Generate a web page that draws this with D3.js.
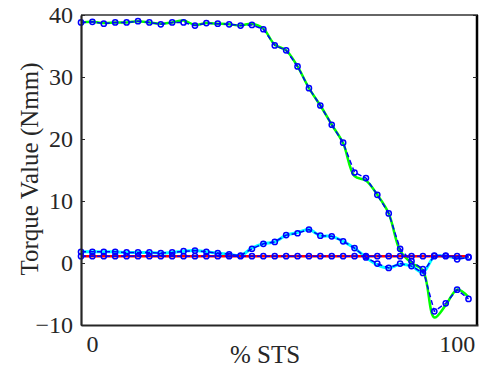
<!DOCTYPE html>
<html>
<head>
<meta charset="utf-8">
<script src="https://cdn.jsdelivr.net/npm/d3@7"></script>
</head>
<body style="margin:0">
<svg id="chart" width="479" height="368"></svg>
<script>
// Samples along the sit-to-stand cycle (35 points)
const sampleCount = 35;

// Top torque curve (green = measured, blue = model markers)
const greenMeasured = [38.8, 38.9, 38.7, 38.8, 38.8, 39.0, 38.8, 38.6, 38.8, 39.1, 38.4, 38.7, 38.6, 38.5, 38.3, 38.6,
  37.8, 35.2, 34.3, 31.7, 28.2, 25.4, 22.3, 19.3, 14.0, 13.3, 11.0, 8.0, 2.0, 0.0, -1.2, -8.8, -6.8, -4.3, -5.5];
const greenModel = [38.8, 38.9, 38.6, 38.8, 38.8, 39.0, 38.8, 38.5, 38.8, 38.8, 38.3, 38.7, 38.6, 38.5, 38.3, 38.4,
  37.7, 35.1, 34.3, 31.7, 28.2, 25.4, 22.3, 19.4, 14.6, 13.7, 11.0, 8.0, 2.3, 0.3, -1.0, -7.8, -6.5, -4.3, -5.8];

// Middle curve (cyan)
const cyanMeasured = [1.8, 1.8, 1.8, 1.8, 1.7, 1.7, 1.7, 1.6, 1.7, 1.9, 2.0, 1.8, 1.6, 1.4, 1.2, 2.4,
  3.1, 3.4, 4.5, 4.9, 5.4, 4.4, 4.3, 3.5, 2.4, 0.9, -0.3, -0.8, -0.2, -0.5, -1.5, 1.0, 1.1, 0.8, 1.0];
const cyanModel = [1.8, 1.8, 1.8, 1.8, 1.7, 1.7, 1.7, 1.6, 1.7, 1.9, 2.0, 1.8, 1.6, 1.4, 1.2, 2.3,
  3.1, 3.4, 4.5, 4.8, 5.4, 4.4, 4.3, 3.5, 2.4, 0.9, -0.1, -0.8, -0.1, -0.5, -1.6, 1.2, 1.2, 0.6, 0.9];

// Bottom curve (red), practically flat
const redMeasured = [1.1, 1.1, 1.1, 1.1, 1.1, 1.1, 1.1, 1.1, 1.1, 1.1, 1.1, 1.1, 1.1, 1.1, 1.1, 1.1,
  1.1, 1.1, 1.1, 1.1, 1.1, 1.1, 1.1, 1.1, 1.1, 1.1, 1.1, 1.1, 1.1, 1.1, 1.1, 1.1, 1.1, 1.1, 1.1];
const redModel = [1.1, 1.1, 1.1, 1.1, 1.1, 1.1, 1.1, 1.1, 1.1, 1.1, 1.1, 1.1, 1.1, 1.1, 1.1, 1.1,
  1.1, 1.1, 1.1, 1.1, 1.1, 1.1, 1.1, 1.1, 1.1, 1.1, 1.1, 1.1, 1.1, 1.1, 1.1, 1.1, 1.1, 1.1, 1.0];

const yTicks = [-10, 0, 10, 20, 30, 40];
const xTicks = [0, 100];

const width = 479;
const height = 368;
const margin = { top: 15, right: 1, bottom: 43, left: 81 };

const svg = d3.select("#chart");

// samples run a little before 0 % and past 100 %
const pct = d3.scaleLinear().domain([0, sampleCount - 1]).range([-3, 103.2]);

const x = d3.scaleLinear()
  .domain([-3, 105.8])
  .range([margin.left, width - margin.right]);

const y = d3.scaleLinear()
  .domain([-10, 40])
  .range([height - margin.bottom, margin.top]);

const line = d3.line()
  .x((d, i) => x(pct(i)))
  .y(d => y(d));

const smooth = d3.line()
  .x((d, i) => x(pct(i)))
  .y(d => y(d))
  .curve(d3.curveCatmullRom);

const plot = svg.append("g");

// measured curves, solid
const solids = [
  { values: greenMeasured, color: "#00ff00", w: 2.5 },
  { values: cyanMeasured, color: "#00ffff", w: 3 },
  { values: redMeasured, color: "#ff0000", w: 2.5 }
];
plot.selectAll("path.solid")
  .data(solids)
  .enter()
  .append("path")
  .attr("class", "solid")
  .attr("d", d => smooth(d.values))
  .attr("fill", "none")
  .attr("stroke", d => d.color)
  .attr("stroke-width", d => d.w);

// model curves, blue dashed with open circles
const models = [greenModel, cyanModel, redModel];
models.forEach(vals => {
  plot.append("path")
    .attr("d", line(vals))
    .attr("fill", "none")
    .attr("stroke", "#0000ff")
    .attr("stroke-width", 1.5)
    .attr("stroke-dasharray", "5,3");

  plot.selectAll(null)
    .data(vals)
    .enter()
    .append("circle")
    .attr("cx", (d, i) => x(pct(i)))
    .attr("cy", d => y(d))
    .attr("r", 2.6)
    .attr("fill", "none")
    .attr("stroke", "#0000ff")
    .attr("stroke-width", 1.5);
});

// frame
svg.append("line")
  .attr("x1", margin.left).attr("x2", width - margin.right)
  .attr("y1", margin.top).attr("y2", margin.top)
  .attr("stroke", "#333").attr("stroke-width", 1.5);
svg.append("line")
  .attr("x1", width - 2).attr("x2", width - 2)
  .attr("y1", margin.top).attr("y2", height - margin.bottom)
  .attr("stroke", "#000").attr("stroke-width", 2.5);

// right ticks (inward, no labels)
const yRight = svg.append("g")
  .attr("transform", "translate(" + (width - 2) + ",0)")
  .call(d3.axisRight(y).tickValues(yTicks).tickSize(-4).tickFormat(""));
yRight.select(".domain").remove();
yRight.selectAll("line").attr("stroke", "#262626");

// left axis
const yAxis = svg.append("g")
  .attr("transform", "translate(" + margin.left + ",0)")
  .call(d3.axisLeft(y).tickValues(yTicks).tickSizeInner(-4).tickSizeOuter(0).tickPadding(8));
yAxis.select(".domain").attr("stroke", "#262626").attr("stroke-width", 2.2);
yAxis.selectAll("line").attr("stroke", "#262626");

// bottom axis
const xAxis = svg.append("g")
  .attr("transform", "translate(0," + (height - margin.bottom) + ")")
  .call(d3.axisBottom(x).tickValues(xTicks).tickSize(0).tickPadding(10));
xAxis.select(".domain").attr("stroke", "#262626").attr("stroke-width", 2.2);

// axis titles
svg.append("text")
  .attr("x", 265)
  .attr("y", 363)
  .style("text-anchor", "middle")
  .text("% STS");

svg.append("text")
  .attr("transform", "translate(38,169) rotate(-90)")
  .style("text-anchor", "middle")
  .text("Torque Value (Nmm)");

// Times-like type everywhere, as in the original figure
svg.selectAll("g").attr("font-family", null).attr("font-size", null);
svg.selectAll("text")
  .style("font-family", "'Times New Roman'")
  .style("font-size", "24px")
  .style("fill", "#262626");
svg.selectAll("svg > text").style("font-size", "25px");
</script>
</body>
</html>
